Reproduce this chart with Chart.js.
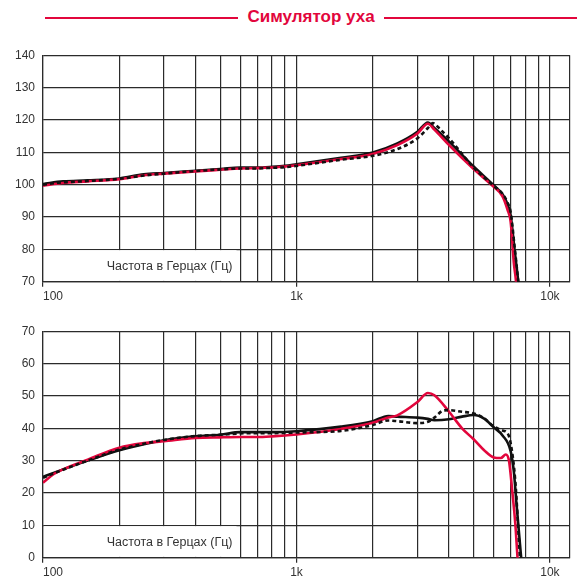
<!DOCTYPE html>
<html>
<head>
<meta charset="utf-8">
<script src="https://cdn.jsdelivr.net/npm/chart.js@4.4.1/dist/chart.umd.min.js"></script>
<style>
  html, body { margin: 0; padding: 0; background: #fff; }
  body { width: 577px; height: 580px; position: relative; overflow: hidden; font-family: "Liberation Sans", Arial, sans-serif; }
  #titleRow { position: absolute; left: 45px; top: 0; width: 532px; height: 36px; display: flex; align-items: flex-start; }
  .tline { flex: 1; height: 2.5px; background: #e2063c; margin-top: 16.5px; }
  #titleText { font-weight: bold; font-size: 17px; line-height: 17px; color: #e2063c; margin: 7.5px 9px 0 9px; white-space: nowrap; }
  .cv { position: absolute; left: 0; }
</style>
</head>
<body>
<div id="titleRow"><div class="tline"></div><div id="titleText">Симулятор уха</div><div class="tline"></div></div>
<canvas id="c1" class="cv" width="577" height="264" style="top:40px"></canvas>
<canvas id="c2" class="cv" width="577" height="264" style="top:316px"></canvas>
<script>
// ---------- DATA ----------
const gridFreqs = [100,200,300,400,500,600,700,800,900,1000,2000,3000,4000,5000,6000,7000,8000,9000,10000,12000];
const labeledFreqs = [100, 1000, 10000];
const freqLabels = ['100', '1k', '10k'];
const axisLabel = 'Частота в Герцах (Гц)';

const topYTicks = [70, 80, 90, 100, 110, 120, 130, 140];
const botYTicks = [0, 10, 20, 30, 40, 50, 60, 70];

// Upper chart
const topBlackFreq = [100,120,150,200,250,300,400,500,600,700,800,900,1000,1500,2000,2500,3000,3300,3500,4000,5000,6000,6500,6800,7000,7250,7500,7700];
const topBlack     = [100.2,101.0,101.3,101.9,103.2,103.6,104.3,104.8,105.3,105.3,105.5,105.8,106.3,108.3,109.9,112.7,116.3,119.2,117.5,113.3,105.6,99.8,97.0,94.0,90.5,80.0,70.0,60.0];

const topRedFreq = [100,120,150,200,250,300,400,500,600,700,800,900,1000,1500,2000,2500,3000,3300,3500,4000,5000,6000,6500,6800,7000,7200,7350,7500];
const topRed     = [99.7,100.5,101.0,101.7,102.9,103.4,104.1,104.6,105.0,105.1,105.3,105.6,106.0,107.9,109.5,112.2,115.8,118.8,117.0,112.2,104.8,99.3,96.4,92.3,88.5,76.0,70.0,60.0];

const topDashFreq = [100,120,150,200,250,300,400,500,600,700,800,900,1000,1500,2000,2500,3000,3300,3450,3700,4000,5000,6000,6500,6800,7000,7250,7500,7700];
const topDash     = [100.0,100.7,101.1,101.8,102.8,103.4,104.2,104.7,105.0,105.0,105.2,105.4,105.8,107.7,108.9,111.0,114.3,117.5,119.0,117.0,114.3,105.3,99.6,97.2,94.5,91.5,81.0,70.0,60.0];

// Lower chart
const botBlackFreq = [100,110,120,150,200,250,300,400,500,600,700,800,1000,1500,2000,2300,2500,3000,3300,3500,4000,4500,5000,5500,6000,6500,7000,7200,7400,7700,7900];
const botBlack     = [25.0,26.2,27.3,30.0,33.2,35.1,36.3,37.5,38.0,38.8,38.8,38.8,39.1,40.5,42.2,43.8,43.6,43.3,42.9,42.5,42.8,43.6,44.1,43.0,40.3,37.8,32.9,26.8,15.6,0,-10];

const botRedFreq = [100,110,120,150,200,250,300,400,500,600,700,800,1000,1500,2000,2300,2500,3000,3300,3500,4000,4500,5000,5500,6000,6400,6700,6900,7100,7300,7450,7600];
const botRed     = [23.2,25.8,27.3,30.3,34.0,35.4,36.0,37.0,37.2,37.3,37.3,37.5,38.1,39.8,41.7,43.3,44.0,48.1,50.9,50.2,45.1,40.0,36.6,33.2,31.0,30.8,31.9,29.8,20.7,10.6,0,-10];

const botDashFreq = [100,120,150,200,250,300,400,500,600,700,800,1000,1500,2000,2300,2500,3000,3300,3500,3800,4000,4500,5000,5500,6000,6500,6800,7000,7300,7600,7800];
const botDash     = [24.7,27.2,30.0,33.4,35.2,36.4,37.6,38.0,38.4,38.5,38.5,38.7,39.2,41.0,42.4,42.2,41.6,42.0,43.3,45.5,45.6,45.1,44.6,43.1,40.6,39.3,38.5,35.4,23.7,1.4,-10];

// ---------- STYLE / LAYOUT ----------
const RED = '#e2063c';
const BLACK = '#111111';
const GRID = '#2b2b2b';
const TEXT = '#333333';
const BOX_END_FREQ = 580;

Chart.defaults.font.family = '"Liberation Sans", Arial, sans-serif';
Chart.defaults.font.size = 12;
Chart.defaults.color = TEXT;

function pts(fs, vs) { return fs.map((f, i) => ({ x: f, y: vs[i] })); }

const boxPlugin = {
  id: 'freqBox',
  beforeDatasetsDraw(chart) {
    const { ctx, chartArea, scales: { x, y } } = chart;
    const left = chartArea.left + 1;
    const right = x.getPixelForValue(BOX_END_FREQ);
    const top = y.getPixelForValue(y.min + 10) + 0.8;
    const bottom = chartArea.bottom - 0.8;
    ctx.save();
    ctx.fillStyle = '#fff';
    ctx.fillRect(left, top, right - left, bottom - top);
    ctx.fillStyle = TEXT;
    ctx.font = '12.5px "Liberation Sans", Arial, sans-serif';
    ctx.textAlign = 'right';
    ctx.textBaseline = 'middle';
    ctx.fillText(axisLabel, right - 4, (top + bottom) / 2 + 1);
    ctx.restore();
  }
};

function makeChart(id, yTicks, sets) {
  const yMin = yTicks[0], yMax = yTicks[yTicks.length - 1];
  return new Chart(document.getElementById(id), {
    type: 'line',
    data: {
      datasets: [
        { data: pts(sets[2][0], sets[2][1]), borderColor: BLACK, borderWidth: 2.6, borderDash: [4, 3], order: 0 },
        { data: pts(sets[1][0], sets[1][1]), borderColor: RED, borderWidth: 2.6, order: 1 },
        { data: pts(sets[0][0], sets[0][1]), borderColor: BLACK, borderWidth: 2.6, order: 2 }
      ].map(d => Object.assign(d, { pointRadius: 0, fill: false, cubicInterpolationMode: 'monotone' }))
    },
    options: {
      responsive: false,
      animation: false,
      devicePixelRatio: 1,
      layout: { padding: { top: 12.3, right: 7, left: 0, bottom: 0 } },
      plugins: { legend: { display: false }, tooltip: { enabled: false } },
      scales: {
        x: {
          type: 'logarithmic',
          min: gridFreqs[0],
          max: gridFreqs[gridFreqs.length - 1],
          afterBuildTicks: (s) => { s.ticks = gridFreqs.map(v => ({ value: v })); },
          afterFit: (s) => { s.height = 22.3; },
          ticks: {
            autoSkip: false, maxRotation: 0, minRotation: 0, align: 'inner', padding: 3,
            color: TEXT, font: { size: 12 },
            callback: (v) => { const i = labeledFreqs.indexOf(v); return i >= 0 ? freqLabels[i] : ''; }
          },
          grid: {
            color: GRID, lineWidth: 1.2, tickLength: 5,
            tickColor: (c) => (c.tick && labeledFreqs.includes(c.tick.value)) ? GRID : 'rgba(0,0,0,0)'
          },
          border: { color: GRID, width: 1.2 }
        },
        y: {
          min: yMin, max: yMax,
          afterBuildTicks: (s) => { s.ticks = yTicks.map(v => ({ value: v })); },
          afterFit: (s) => { s.width = 43; },
          ticks: { padding: 8, color: TEXT, font: { size: 12 } },
          grid: { color: GRID, lineWidth: 1.2, drawTicks: false },
          border: { color: GRID, width: 1.2 }
        }
      }
    },
    plugins: [boxPlugin]
  });
}

makeChart('c1', topYTicks, [[topBlackFreq, topBlack], [topRedFreq, topRed], [topDashFreq, topDash]]);
makeChart('c2', botYTicks, [[botBlackFreq, botBlack], [botRedFreq, botRed], [botDashFreq, botDash]]);
</script>
</body>
</html>
